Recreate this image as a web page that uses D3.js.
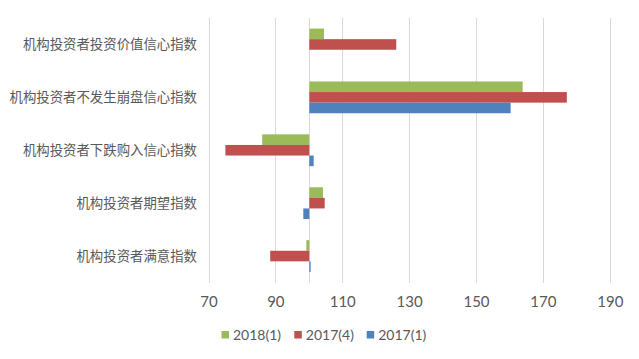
<!DOCTYPE html>
<html>
<head>
<meta charset="utf-8">
<script src="https://cdn.jsdelivr.net/npm/d3@7"></script>
<style>
  html, body { margin: 0; padding: 0; background: #fff; }
  svg { display: block; }
</style>
</head>
<body>
<svg id="chart" width="639" height="359"></svg>
<script>
const categories = [
  "机构投资者投资价值信心指数",
  "机构投资者不发生崩盘信心指数",
  "机构投资者下跌购入信心指数",
  "机构投资者期望指数",
  "机构投资者满意指数"
];
const seriesNames = ["2018(1)", "2017(4)", "2017(1)"];
const seriesColors = ["#9BBB59", "#C0504D", "#4F81BD"];
const values2018_1 = [104.4, 163.8, 85.9, 104.1, 99.1];
const values2017_4 = [126.0, 177.0, 74.9, 104.6, 88.3];
const values2017_1 = [100.0, 160.2, 101.3, 98.2, 100.4];
const xTicks = [70, 90, 110, 130, 150, 170, 190];
const baseValue = 100;

const seriesValues = [values2018_1, values2017_4, values2017_1];

const svg = d3.select("#chart");
const x = d3.scaleLinear().domain([70, 190]).range([209, 610.3]);
const y = d3.scaleBand().domain(categories).range([18, 282.5]).paddingInner(0.4).paddingOuter(0.2);
const ys = d3.scaleBand().domain(seriesNames).range([0, y.bandwidth()]);

const textColor = "#595959";
const gridColor = "#D9D9D9";

svg.append("g").selectAll("line").data(xTicks).join("line")
  .attr("x1", d => x(d)).attr("x2", d => x(d))
  .attr("y1", 18).attr("y2", 283)
  .attr("stroke", gridColor).attr("stroke-width", 1)
  .attr("shape-rendering", "crispEdges");

svg.append("line")
  .attr("x1", x(baseValue)).attr("x2", x(baseValue))
  .attr("y1", 18).attr("y2", 283)
  .attr("stroke", gridColor).attr("stroke-width", 1)
  .attr("shape-rendering", "crispEdges");

seriesNames.forEach((s, si) => {
  svg.append("g").selectAll("rect").data(categories).join("rect")
    .attr("x", (c, i) => Math.min(x(baseValue), x(seriesValues[si][i])))
    .attr("width", (c, i) => Math.abs(x(seriesValues[si][i]) - x(baseValue)))
    .attr("y", c => y(c) + ys(s))
    .attr("height", ys.bandwidth())
    .attr("fill", seriesColors[si]);
});

svg.append("g").selectAll("text").data(xTicks).join("text")
  .attr("x", d => x(d)).attr("y", 306.5)
  .attr("text-anchor", "middle")
  .attr("font-family", "Lato, 'Open Sans', sans-serif")
  .attr("font-size", 15)
  .attr("fill", textColor)
  .text(d => d);

svg.append("g").selectAll("text").data(categories).join("text")
  .attr("x", 197).attr("y", c => y(c) + y.bandwidth() / 2)
  .attr("dy", "0.35em")
  .attr("text-anchor", "end")
  .attr("font-family", "'Noto Sans CJK SC', sans-serif")
  .attr("font-size", 13.4)
  .attr("fill", textColor)
  .text(c => c);

const legendX = [221.5, 294.3, 366.7];
const lg = svg.append("g");
seriesNames.forEach((s, si) => {
  lg.append("rect")
    .attr("x", legendX[si]).attr("y", 331)
    .attr("width", 7.5).attr("height", 7.5)
    .attr("fill", seriesColors[si]);
  lg.append("text")
    .attr("x", legendX[si] + 11.5).attr("y", 339.5)
    .attr("font-family", "Lato, 'Open Sans', sans-serif")
    .attr("font-size", 14)
    .attr("fill", textColor)
    .text(s);
});
</script>
</body>
</html>
